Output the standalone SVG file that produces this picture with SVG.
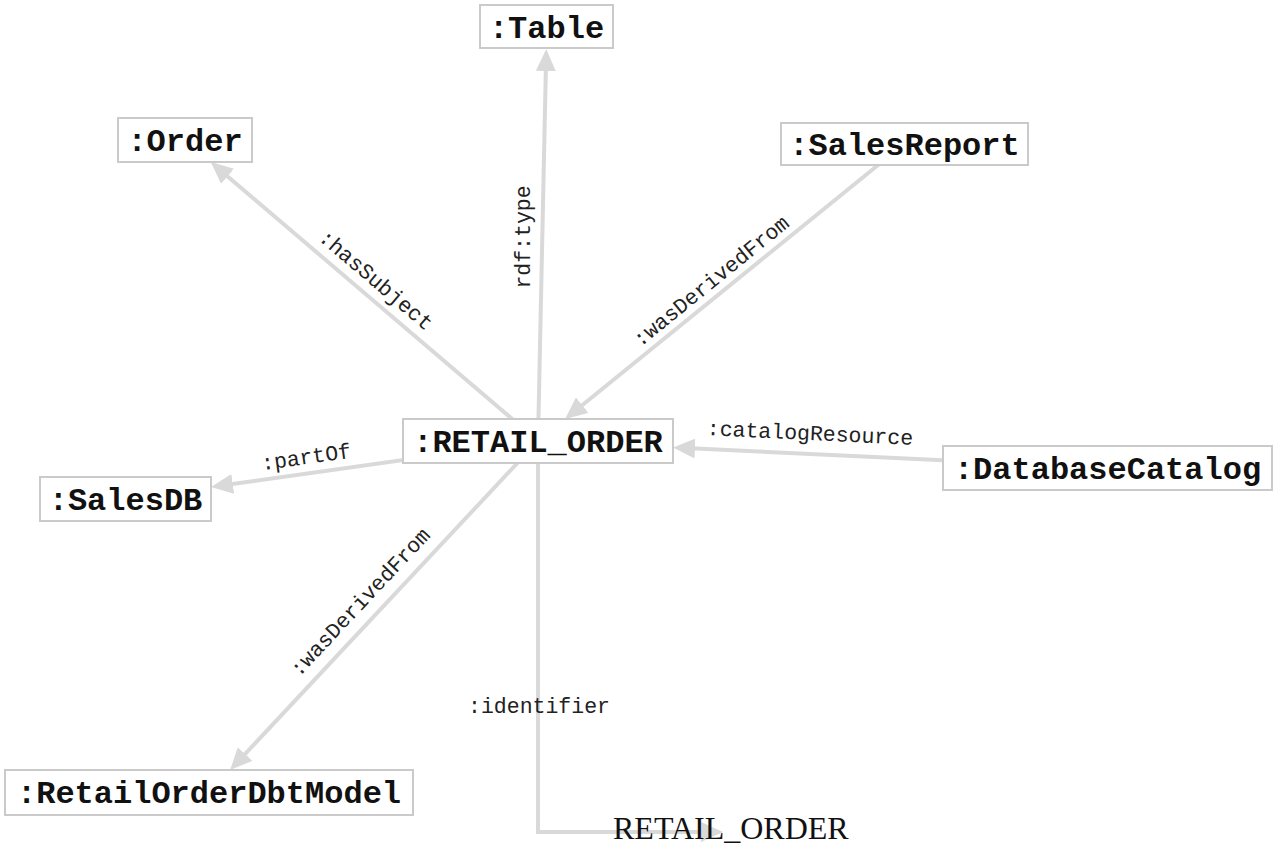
<svg xmlns="http://www.w3.org/2000/svg" width="1280" height="862" viewBox="0 0 1280 862">
<style>
.edge{fill:none;stroke:#d9d9d9;stroke-width:4;marker-end:url(#arr)}
.box{fill:#fff;stroke:#cacaca;stroke-width:2}
.nt{font-family:"Liberation Mono",monospace;font-size:32px;font-weight:bold;fill:#111;text-anchor:middle}
.lb{font-family:"Liberation Mono",monospace;font-size:21.5px;fill:#222;text-anchor:middle}
.lit{font-family:"Liberation Serif",serif;font-size:32px;fill:#111}
</style>
<defs>
<marker id="arr" markerUnits="userSpaceOnUse" viewBox="0 0 22 20" refX="4" refY="10" markerWidth="22" markerHeight="20" orient="auto">
<path d="M0,0 L22,10 L0,20 z" fill="#d9d9d9"/>
</marker>
</defs>
<rect width="1280" height="862" fill="#fff"/>
<g id="connectors">
<path class="edge" d="M538,441 L545.9,67"/>
<path class="edge" d="M538,441 L224.5,173.7"/>
<path class="edge" d="M904,144 L579.1,407.7"/>
<path class="edge" d="M538,441 L228.8,484.5"/>
<path class="edge" d="M1107.5,468 L691,448.3"/>
<path class="edge" d="M538,441 L242.4,756.9"/>
<path class="edge" d="M538,441 V832 H705"/>
<g id="edge-labels">
<text class="lb" transform="translate(376,280) rotate(40.45)" y="7">:hasSubject</text>
<text class="lb" transform="translate(523,237) rotate(-90)" y="7">rdf:type</text>
<text class="lb" transform="translate(711,281) rotate(-39.05)" y="7">:wasDerivedFrom</text>
<text class="lb" transform="translate(810,433) rotate(2.71)" y="7">:catalogResource</text>
<text class="lb" transform="translate(306,457) rotate(-8)" y="7">:partOf</text>
<text class="lb" transform="translate(360,602) rotate(-46.9)" y="7">:wasDerivedFrom</text>
<text class="lb" x="539" y="713">:identifier</text>
</g>
</g>
<g id="node-table"><rect class="box" x="480" y="5" width="133" height="43"/><text class="nt" x="546.5" y="37.5">:Table</text></g>
<g id="node-order"><rect class="box" x="118" y="118" width="134" height="44"/><text class="nt" x="185" y="151">:Order</text></g>
<g id="node-salesreport"><rect class="box" x="781" y="123" width="247" height="42"/><text class="nt" x="904.5" y="155">:SalesReport</text></g>
<g id="node-retail-order"><rect class="box" x="403" y="419" width="270" height="44"/><text class="nt" x="538" y="452">:RETAIL_ORDER</text></g>
<g id="node-salesdb"><rect class="box" x="40" y="477" width="171" height="44"/><text class="nt" x="125.5" y="510">:SalesDB</text></g>
<g id="node-databasecatalog"><rect class="box" x="943" y="446" width="329" height="44"/><text class="nt" x="1107.5" y="479">:DatabaseCatalog</text></g>
<g id="node-retailorderdbtmodel"><rect class="box" x="5" y="770" width="408" height="45"/><text class="nt" x="209" y="803">:RetailOrderDbtModel</text></g>
<g id="node-literal"><text class="lit" x="613" y="839">RETAIL_ORDER</text></g>
</svg>
